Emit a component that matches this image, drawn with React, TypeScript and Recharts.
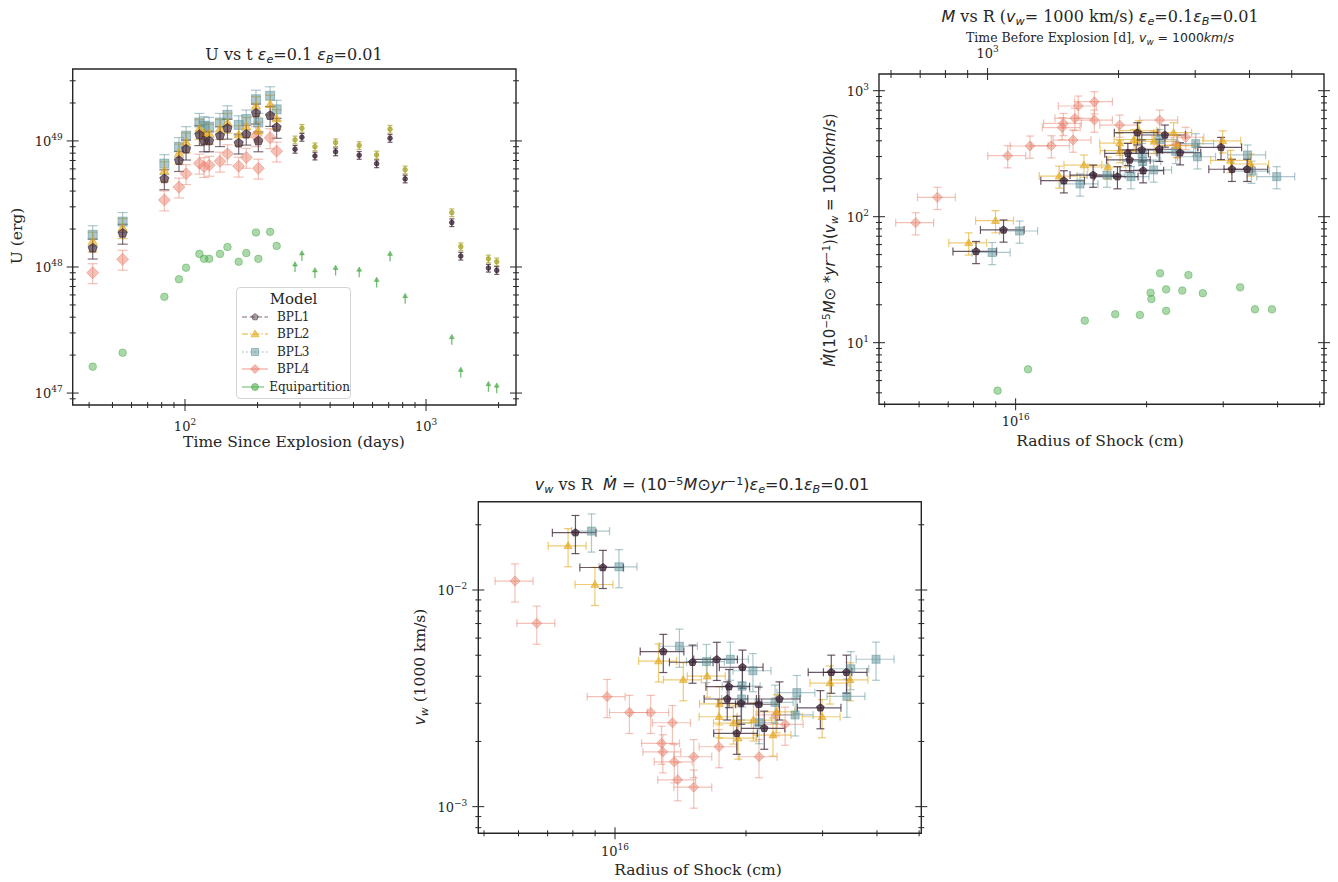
import React from "react";
import { ScatterChart, Scatter, XAxis, YAxis, ErrorBar, ReferenceArea } from "recharts";

const SERIF = "'DejaVu Serif', serif";
const MATH = "'DejaVu Sans', sans-serif";
const INK = "#262626";

// ---- U vs t (time since explosion, days) ----
const tEarly = [41.4, 55.1, 82.1, 94.4, 101, 114.7, 120, 126, 139.7, 150, 167, 179.6, 197, 201.5, 225.5, 240];
const uBPL1 = [1.41e48, 1.85e48, 5.0e48, 6.98e48, 8.6e48, 1.12e49, 1.0e49, 1.0e49, 1.1e49, 1.26e49, 9.6e48, 1.13e49, 1.66e49, 1.0e49, 1.59e49, 1.28e49];
const uBPL2 = [1.6e48, 2.05e48, 5.8e48, 8.0e48, 9.8e48, 1.25e49, 1.15e49, 1.15e49, 1.25e49, 1.4e49, 1.12e49, 1.3e49, 1.9e49, 1.2e49, 1.95e49, 1.5e49];
const uBPL3 = [1.8e48, 2.29e48, 6.6e48, 9.0e48, 1.1e49, 1.4e49, 1.32e49, 1.3e49, 1.4e49, 1.61e49, 1.34e49, 1.49e49, 2.14e49, 1.4e49, 2.28e49, 1.78e49];
const uBPL4 = [9.0e47, 1.15e48, 3.4e48, 4.3e48, 5.5e48, 6.65e48, 6.25e48, 6.4e48, 6.9e48, 7.9e48, 6.3e48, 7.4e48, 1.1e49, 6.07e48, 1.06e49, 8.3e48];
const uEquip = [1.62e47, 2.09e47, 5.8e47, 8.0e47, 9.87e47, 1.27e48, 1.16e48, 1.16e48, 1.27e48, 1.44e48, 1.1e48, 1.29e48, 1.88e48, 1.16e48, 1.9e48, 1.47e48];

const tLate = [286, 305.5, 346, 421.5, 528, 624, 709, 819, 1279, 1394, 1815, 1965];
const uLateBPL1 = [8.6e48, 1.07e49, 7.6e48, 8.2e48, 7.7e48, 6.6e48, 1.05e49, 5.0e48, 2.25e48, 1.22e48, 9.8e47, 9.4e47];
const uLateBPL2 = [1.02e49, 1.26e49, 9.0e48, 9.7e48, 9.2e48, 7.75e48, 1.24e49, 5.9e48, 2.7e48, 1.45e48, 1.16e48, 1.1e48];
const uLateEquip = [9.8e47, 1.2e48, 8.8e47, 9.2e47, 8.9e47, 7.4e47, 1.19e48, 5.5e47, 2.6e47, 1.43e47, 1.1e47, 1.07e47];

// ---- Mdot and v_w vs shock radius (cm) ----
const rBPL1 = [8.11e15, 9.38e15, 1.291e16, 1.507e16, 1.714e16, 1.963e16, 1.828e16, 1.811e16, 1.95e16, 2.138e16, 2.388e16, 1.905e16, 2.203e16, 2.965e16, 3.141e16, 3.404e16];
const mBPL1 = [53, 78.5, 193, 214, 208, 232, 282, 318, 339, 343, 322, 464, 445, 355, 238, 238];
const vBPL1 = [0.0184, 0.0127, 0.0052, 0.00464, 0.00478, 0.0044, 0.00358, 0.00314, 0.003, 0.00297, 0.00314, 0.00218, 0.0023, 0.00286, 0.00417, 0.00417];

const rBPL2 = [7.8e15, 8.99e15, 1.259e16, 1.435e16, 1.629e16, 1.738e16, 1.734e16, 1.871e16, 1.919e16, 2.08e16, 2.307e16, 2.355e16, 2.992e16, 3.119e16, 3.467e16];
const mBPL2 = [62, 93, 210, 257, 248, 335, 383, 410, 482, 396, 464, 366, 400, 280, 262];
const vBPL2 = [0.016, 0.0106, 0.0047, 0.00385, 0.004, 0.00298, 0.0026, 0.00243, 0.00207, 0.00251, 0.00214, 0.00274, 0.0026, 0.00372, 0.00385];

const rBPL3 = [8.83e15, 1.021e16, 1.406e16, 1.622e16, 1.841e16, 2.075e16, 1.959e16, 1.954e16, 2.143e16, 2.333e16, 2.618e16, 2.594e16, 3.412e16, 3.483e16, 3.981e16];
const mBPL3 = [52, 77, 182, 214, 208, 235, 275, 318, 410, 330, 299, 380, 309, 230, 208];
const vBPL3 = [0.0187, 0.0128, 0.0055, 0.00467, 0.00479, 0.00424, 0.0036, 0.00314, 0.00244, 0.00303, 0.00336, 0.00265, 0.00323, 0.00433, 0.00479];

const rBPL4 = [5.89e15, 6.61e15, 9.59e15, 1.079e16, 1.208e16, 1.279e16, 1.288e16, 1.355e16, 1.368e16, 1.393e16, 1.517e16, 1.517e16, 1.734e16, 2.143e16, 2.344e16, 2.46e16];
const mBPL4 = [89.6, 142.6, 305, 364, 366, 510, 550, 406, 604, 756, 818, 585, 534, 585, 370, 427];
const vBPL4 = [0.011, 0.00702, 0.00322, 0.00272, 0.00272, 0.00196, 0.00179, 0.00244, 0.00161, 0.00133, 0.00123, 0.0017, 0.00189, 0.0017, 0.00265, 0.0024];

const rEquip = [9.09e15, 1.068e16, 1.442e16, 1.694e16, 1.93e16, 2.042e16, 2.051e16, 2.148e16, 2.218e16, 2.218e16, 2.415e16, 2.495e16, 2.692e16, 3.281e16, 3.548e16, 3.882e16];
const mEquip = [4.16, 6.15, 14.96, 16.8, 16.6, 24.9, 22.2, 35.6, 26.5, 17.9, 25.9, 34.4, 24.7, 27.5, 18.4, 18.4];

// axis ranges
const uTimeDomain = [34.2, 2362];
const uEnergyDomain = [8.04e46, 3.72e49];
const mRadiusDomain = [4.853e15, 5.113e16];
const mRateDomain = [3.243, 1357];
const mDaysDomain = [563, 5931];
const vRadiusDomain = [4.85e15, 5.058e16];
const vWindDomain = [7.535e-4, 2.556e-2];

// relative error sizes
const errU = 0.18;
const errULate = 0.07;
const errR = 0.1;
const errRate = 0.2;

const C = { bpl1: "#3a2233", bpl2: "#e2a61a", bpl3: "#5d9299", bpl4: "#ea8370", eq: "#45a845" };

type Pt = { x: number; y: number; ex: number[]; ey: number[] };

function pts(xs: number[], ys: number[], fx: number, fy: number): Pt[] {
  return xs.map((x, i) => ({ x, y: ys[i], ex: [x * fx, x * fx], ey: [ys[i] * fy, ys[i] * fy] }));
}

function logTicks(lo: number, hi: number): number[] {
  const out: number[] = [];
  for (let e = Math.floor(Math.log10(lo)); e <= Math.ceil(Math.log10(hi)); e++) {
    for (let m = 1; m <= 9; m++) {
      const v = m * Math.pow(10, e);
      if (v >= lo && v <= hi) out.push(v);
    }
  }
  return out;
}

const isMajor = (v: number) => Math.abs(Math.log10(v) - Math.round(Math.log10(v))) < 1e-6;
const expStr = (v: number) => {
  const e = Math.round(Math.log10(v));
  return e < 0 ? "\u2212" + String(-e) : String(e);
};

const Pow = ({ x, y, anchor, v }: any) => (
  <text x={x} y={y} textAnchor={anchor} fontFamily={SERIF} fontSize={13} fill={INK}>
    10
    <tspan dy={-6} fontSize={9}>
      {expStr(v)}
    </tspan>
  </text>
);

const leftTick = (plotW: number, dx: number) => (p: any) => {
  const { x, y, payload } = p;
  const major = isMajor(payload.value);
  const L = major ? 6 : 3;
  return (
    <g>
      <line x1={x - L} x2={x + L} y1={y} y2={y} stroke={INK} strokeWidth={1} />
      <line x1={x + plotW - L} x2={x + plotW + L} y1={y} y2={y} stroke={INK} strokeWidth={1} />
      {major && <Pow x={x - dx} y={y + 5} anchor="end" v={payload.value} />}
    </g>
  );
};

const bottomTick = (dy: number) => (p: any) => {
  const { x, y, payload } = p;
  const major = isMajor(payload.value);
  const L = major ? 6 : 3;
  return (
    <g>
      <line x1={x} x2={x} y1={y - L} y2={y + L} stroke={INK} strokeWidth={1} />
      {major && <Pow x={x} y={y + dy} anchor="middle" v={payload.value} />}
    </g>
  );
};

const topTick = (dy: number) => (p: any) => {
  const { x, y, payload } = p;
  const major = isMajor(payload.value);
  const L = major ? 6 : 4;
  return (
    <g>
      <line x1={x} x2={x} y1={y - L} y2={y + L} stroke={INK} strokeWidth={1} />
      {major && <Pow x={x} y={y - dy} anchor="middle" v={payload.value} />}
    </g>
  );
};

const Marker = ({ kind, cx, cy, s, color, op }: any) => {
  const common = { fill: color, fillOpacity: op, stroke: color, strokeOpacity: op, strokeWidth: 1 };
  if (kind === "pent") {
    const p = [0, 1, 2, 3, 4]
      .map((k) => {
        const a = -Math.PI / 2 + (k * 2 * Math.PI) / 5;
        return `${cx + s * Math.cos(a)},${cy + s * Math.sin(a)}`;
      })
      .join(" ");
    return <polygon points={p} {...common} />;
  }
  if (kind === "tri") {
    return <polygon points={`${cx},${cy - s} ${cx - s},${cy + s * 0.7} ${cx + s},${cy + s * 0.7}`} {...common} />;
  }
  if (kind === "sq") {
    return <rect x={cx - s} y={cy - s} width={2 * s} height={2 * s} {...common} />;
  }
  if (kind === "dia") {
    return <polygon points={`${cx},${cy - s} ${cx + s},${cy} ${cx},${cy + s} ${cx - s},${cy}`} {...common} />;
  }
  if (kind === "arrow") {
    return (
      <g stroke={color} strokeOpacity={op} fill={color} fillOpacity={op}>
        <line x1={cx} x2={cx} y1={cy + 4} y2={cy - 3} strokeWidth={1.3} />
        <polygon points={`${cx - 2.5},${cy - 2} ${cx},${cy - 6.5} ${cx + 2.5},${cy - 2}`} strokeWidth={0.5} />
      </g>
    );
  }
  return <circle cx={cx} cy={cy} r={s} {...common} />;
};

type Series = { key: string; data: Pt[]; kind: string; size: number; color: string; op: number; cap: number; xErr?: boolean; yErr?: boolean };

// axes are 1px thick (a 0-size axis is not drawn), so margins are 1px smaller than the plot offsets
function LogPanel(props: any) {
  const { box, plot, xDomain, yDomain, series, xDy, yDx, topDomain } = props;
  const margin = {
    left: plot.left - 1,
    top: plot.top - (topDomain ? 1 : 0),
    right: box.w - plot.right,
    bottom: box.h - plot.bottom - 1,
  };
  const plotW = plot.right - plot.left;
  return (
    <div style={{ position: "absolute", left: box.x, top: box.y }}>
      <ScatterChart width={box.w} height={box.h} margin={margin} style={{ overflow: "visible" }}>
        <XAxis
          xAxisId="b"
          type="number"
          dataKey="x"
          scale="log"
          domain={xDomain}
          allowDataOverflow
          ticks={logTicks(xDomain[0], xDomain[1])}
          interval={0}
          tick={bottomTick(xDy)}
          tickLine={false}
          axisLine={false}
          tickSize={0}
          tickMargin={0}
          height={1}
        />
        {topDomain && (
          <XAxis
            xAxisId="t"
            orientation="top"
            type="number"
            dataKey="x"
            scale="log"
            domain={topDomain}
            allowDataOverflow
            ticks={logTicks(topDomain[0], topDomain[1])}
            interval={0}
            tick={topTick(16)}
            tickLine={false}
            axisLine={false}
            tickSize={0}
            tickMargin={0}
            height={1}
          />
        )}
        <YAxis
          yAxisId="l"
          type="number"
          dataKey="y"
          scale="log"
          domain={yDomain}
          allowDataOverflow
          ticks={logTicks(yDomain[0], yDomain[1])}
          interval={0}
          tick={leftTick(plotW, yDx)}
          tickLine={false}
          axisLine={false}
          tickSize={0}
          tickMargin={0}
          width={1}
        />
        <ReferenceArea
          xAxisId="b"
          yAxisId="l"
          x1={xDomain[0]}
          x2={xDomain[1]}
          y1={yDomain[0]}
          y2={yDomain[1]}
          fill="none"
          fillOpacity={0}
          stroke={INK}
          strokeOpacity={1}
          strokeWidth={1.4}
        />
        {series.map((s: Series) => (
          <Scatter
            key={s.key}
            xAxisId="b"
            yAxisId="l"
            data={s.data}
            isAnimationActive={false}
            shape={(p: any) => <Marker kind={s.kind} cx={p.cx} cy={p.cy} s={s.size} color={s.color} op={s.op} />}
          >
            {s.yErr && <ErrorBar dataKey="ey" direction="y" width={s.cap} stroke={s.color} strokeOpacity={s.op} strokeWidth={1.2} />}
            {s.xErr && <ErrorBar dataKey="ex" direction="x" width={s.cap} stroke={s.color} strokeOpacity={s.op} strokeWidth={1.2} />}
          </Scatter>
        ))}
      </ScatterChart>
    </div>
  );
}

const Sub = ({ children }: any) => <span style={{ fontSize: "0.7em", position: "relative", top: "0.3em" }}>{children}</span>;
const Sup = ({ children }: any) => <span style={{ fontSize: "0.7em", position: "relative", top: "-0.45em" }}>{children}</span>;
const Mi = ({ children }: any) => <span style={{ fontFamily: MATH, fontStyle: "italic" }}>{children}</span>;

const Text = ({ x, y, size, rotate, children }: any) => (
  <div
    style={{
      position: "absolute",
      left: x,
      top: y,
      transform: `translate(-50%, -50%)${rotate ? " rotate(-90deg)" : ""}`,
      fontSize: size,
      whiteSpace: "nowrap",
      lineHeight: 1,
      color: INK,
      fontFamily: SERIF,
    }}
  >
    {children}
  </div>
);

const legendRows = [
  { name: "BPL1", kind: "pent", color: C.bpl1, op: 0.45, dash: "5 2.5", s: 3.5 },
  { name: "BPL2", kind: "tri", color: C.bpl2, op: 0.6, dash: "6 2 1.5 2", s: 4 },
  { name: "BPL3", kind: "sq", color: C.bpl3, op: 0.5, dash: "1.5 2.5", s: 3.5 },
  { name: "BPL4", kind: "dia", color: C.bpl4, op: 0.55, dash: "", s: 4.5 },
  { name: "Equipartition", kind: "circ", color: C.eq, op: 0.55, dash: "", s: 3.5 },
];

const Legend = () => (
  <div
    style={{
      position: "absolute",
      left: 236,
      top: 287,
      width: 115,
      height: 112,
      border: "1px solid #d4d4d4",
      borderRadius: 4,
      background: "rgba(255,255,255,0.85)",
      fontFamily: SERIF,
      color: INK,
      boxSizing: "border-box",
    }}
  >
    <div style={{ textAlign: "center", fontSize: 15, marginTop: 2, lineHeight: "18px" }}>Model</div>
    {legendRows.map((r) => (
      <div key={r.name} style={{ display: "flex", alignItems: "center", height: 17.5 }}>
        <svg width={32} height={14} style={{ marginLeft: 3 }}>
          <line x1={2} x2={28} y1={7} y2={7} stroke={r.color} strokeOpacity={r.op} strokeWidth={1.5} strokeDasharray={r.dash || undefined} />
          <Marker kind={r.kind} cx={15} cy={7} s={r.s} color={r.color} op={r.op} />
        </svg>
        <span style={{ fontSize: 12, marginLeft: 5 }}>{r.name}</span>
      </div>
    ))}
  </div>
);

const uSeries: Series[] = [
  { key: "u4", data: pts(tEarly, uBPL4, 0, errU), kind: "dia", size: 6, color: C.bpl4, op: 0.5, cap: 5, yErr: true },
  { key: "u3", data: pts(tEarly, uBPL3, 0, errU), kind: "sq", size: 4.5, color: C.bpl3, op: 0.5, cap: 5, yErr: true },
  { key: "u2", data: pts(tEarly, uBPL2, 0, errU), kind: "tri", size: 4.5, color: C.bpl2, op: 0.6, cap: 5, yErr: true },
  { key: "u1", data: pts(tEarly, uBPL1, 0, errU), kind: "pent", size: 4.8, color: C.bpl1, op: 0.65, cap: 5, yErr: true },
  { key: "ue", data: pts(tEarly, uEquip, 0, 0), kind: "circ", size: 3.8, color: C.eq, op: 0.45, cap: 0 },
  { key: "l2", data: pts(tLate, uLateBPL2, 0, errULate), kind: "circ", size: 2.3, color: "#a9a52e", op: 0.75, cap: 2.5, yErr: true },
  { key: "l1", data: pts(tLate, uLateBPL1, 0, errULate), kind: "circ", size: 2.3, color: C.bpl1, op: 0.75, cap: 2.5, yErr: true },
  { key: "le", data: pts(tLate, uLateEquip, 0, 0), kind: "arrow", size: 3, color: C.eq, op: 0.75, cap: 0 },
];

const mSeries: Series[] = [
  { key: "m4", data: pts(rBPL4, mBPL4, errR, errRate), kind: "dia", size: 5, color: C.bpl4, op: 0.5, cap: 4, xErr: true, yErr: true },
  { key: "m3", data: pts(rBPL3, mBPL3, errR, errRate), kind: "sq", size: 4, color: C.bpl3, op: 0.5, cap: 4, xErr: true, yErr: true },
  { key: "m2", data: pts(rBPL2, mBPL2, errR, errRate), kind: "tri", size: 4, color: C.bpl2, op: 0.6, cap: 4, xErr: true, yErr: true },
  { key: "m1", data: pts(rBPL1, mBPL1, errR * 1.15, errRate), kind: "pent", size: 4, color: C.bpl1, op: 0.75, cap: 4, xErr: true, yErr: true },
  { key: "me", data: pts(rEquip, mEquip, 0, 0), kind: "circ", size: 3.8, color: C.eq, op: 0.45, cap: 0 },
];

const vSeries: Series[] = [
  { key: "v4", data: pts(rBPL4, vBPL4, errR, errRate), kind: "dia", size: 5, color: C.bpl4, op: 0.5, cap: 4, xErr: true, yErr: true },
  { key: "v3", data: pts(rBPL3, vBPL3, errR, errRate), kind: "sq", size: 4, color: C.bpl3, op: 0.5, cap: 4, xErr: true, yErr: true },
  { key: "v2", data: pts(rBPL2, vBPL2, errR, errRate), kind: "tri", size: 4, color: C.bpl2, op: 0.6, cap: 4, xErr: true, yErr: true },
  { key: "v1", data: pts(rBPL1, vBPL1, errR * 1.15, errRate), kind: "pent", size: 4, color: C.bpl1, op: 0.75, cap: 4, xErr: true, yErr: true },
];

export default function App() {
  return (
    <div style={{ position: "absolute", left: 0, top: 0, width: 1338, height: 882, background: "#fff", overflow: "hidden" }}>
      <LogPanel
        box={{ x: 0, y: 0, w: 560, h: 460 }}
        plot={{ left: 72.7, top: 69, right: 516, bottom: 405 }}
        xDomain={uTimeDomain}
        yDomain={uEnergyDomain}
        series={uSeries}
        xDy={26}
        yDx={10}
      />
      <Text x={294} y={55} size={16}>
        U vs t <Mi>ε</Mi>
        <Sub>
          <Mi>e</Mi>
        </Sub>
        =0.1 <Mi>ε</Mi>
        <Sub>
          <Mi>B</Mi>
        </Sub>
        =0.01
      </Text>
      <Text x={294} y={443} size={15.5}>
        Time Since Explosion (days)
      </Text>
      <Text x={18} y={236} size={15.5} rotate>
        U (erg)
      </Text>
      <Legend />

      <LogPanel
        box={{ x: 780, y: 0, w: 558, h: 460 }}
        plot={{ left: 99, top: 74, right: 544, bottom: 404.3 }}
        xDomain={mRadiusDomain}
        yDomain={mRateDomain}
        topDomain={mDaysDomain}
        series={mSeries}
        xDy={22}
        yDx={10}
      />
      <Text x={1100} y={17} size={16}>
        <Mi>M</Mi> vs R (<Mi>v</Mi>
        <Sub>
          <Mi>w</Mi>
        </Sub>
        = 1000 km/s) <Mi>ε</Mi>
        <Sub>
          <Mi>e</Mi>
        </Sub>
        =0.1<Mi>ε</Mi>
        <Sub>
          <Mi>B</Mi>
        </Sub>
        =0.01
      </Text>
      <Text x={1100} y={38} size={12.5}>
        Time Before Explosion [d], <Mi>v</Mi>
        <Sub>
          <Mi>w</Mi>
        </Sub>
        <span style={{ fontFamily: MATH }}> = 1000</span>
        <Mi>km</Mi>
        <span style={{ fontFamily: MATH }}>/</span>
        <Mi>s</Mi>
      </Text>
      <Text x={1100} y={442} size={15.5}>
        Radius of Shock (cm)
      </Text>
      <Text x={830} y={240} size={15} rotate>
        <span style={{ fontFamily: MATH }}>
          <Mi>Ṁ</Mi>(10
          <Sup>−5</Sup>
          <Mi>M</Mi>⊙ *<Mi>yr</Mi>
          <Sup>−1</Sup>)(<Mi>v</Mi>
          <Sub>
            <Mi>w</Mi>
          </Sub>{" "}
          = 1000<Mi>km</Mi>/<Mi>s</Mi>)
        </span>
      </Text>

      <LogPanel
        box={{ x: 400, y: 460, w: 560, h: 422 }}
        plot={{ left: 78.3, top: 41.7, right: 521.3, bottom: 373.3 }}
        xDomain={vRadiusDomain}
        yDomain={vWindDomain}
        series={vSeries}
        xDy={23}
        yDx={11}
      />
      <Text x={702} y={485} size={16}>
        <Mi>v</Mi>
        <Sub>
          <Mi>w</Mi>
        </Sub>{" "}
        vs R&nbsp;&nbsp;
        <span style={{ fontFamily: MATH }}>
          <Mi>Ṁ</Mi> = (10
          <Sup>−5</Sup>
          <Mi>M</Mi>⊙<Mi>yr</Mi>
          <Sup>−1</Sup>)<Mi>ε</Mi>
          <Sub>
            <Mi>e</Mi>
          </Sub>
          =0.1<Mi>ε</Mi>
          <Sub>
            <Mi>B</Mi>
          </Sub>
          =0.01
        </span>
      </Text>
      <Text x={698} y={871} size={15.5}>
        Radius of Shock (cm)
      </Text>
      <Text x={421} y={667} size={15.5} rotate>
        <Mi>v</Mi>
        <Sub>
          <Mi>w</Mi>
        </Sub>{" "}
        (1000 km/s)
      </Text>
    </div>
  );
}
